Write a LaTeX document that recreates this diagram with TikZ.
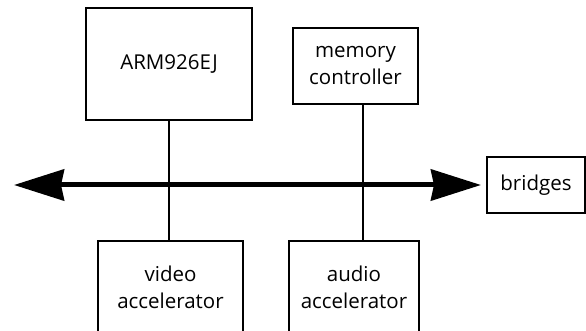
\documentclass[tikz,border=0pt]{standalone}
\usepackage{fontspec}
\setmainfont{Open Sans}
\usetikzlibrary{arrows.meta}
\tikzset{
  block/.style={draw, line width=1.3pt, align=center, inner sep=0pt,
    font=\fontsize{20.5}{27}\selectfont},
  link/.style={line width=1.3pt},
  bus/.style={line width=5pt, {Stealth[length=50pt,width=31pt,inset=3pt]}-{Stealth[length=50pt,width=31pt,inset=3pt]}}
}
\begin{document}
\begin{tikzpicture}[x=1pt,y=-1pt]
            \useasboundingbox (0,0) rectangle (586,331);
            % Coordinates
            \coordinate (L) at (14,185);
            \coordinate (R) at (481,185);
            % Blocks
            \node[block, minimum width=166pt, minimum height=112pt] (arm) at (169,64) {ARM926EJ};
            \node[block, minimum width=125pt, minimum height=76pt] (mem) at (355.5,66) {memory\\controller};
            \node[block, minimum width=145pt, minimum height=92pt] (video) at (170.5,287) {video\\accelerator};
            \node[block, minimum width=130pt, minimum height=92pt] (audio) at (354,287) {audio\\accelerator};
            \node[block, minimum width=98pt, minimum height=56pt] (bridges) at (536,185) {bridges};

            % draw additional lines
            \draw[link] (arm.south) -- (arm.south |- video.north);
            \draw[link] ([xshift=7.5pt]mem.south) -- ([xshift=7.5pt]mem.south |- audio.north);
            \draw[bus] (L) -- (R);
        \end{tikzpicture}
\end{document}
